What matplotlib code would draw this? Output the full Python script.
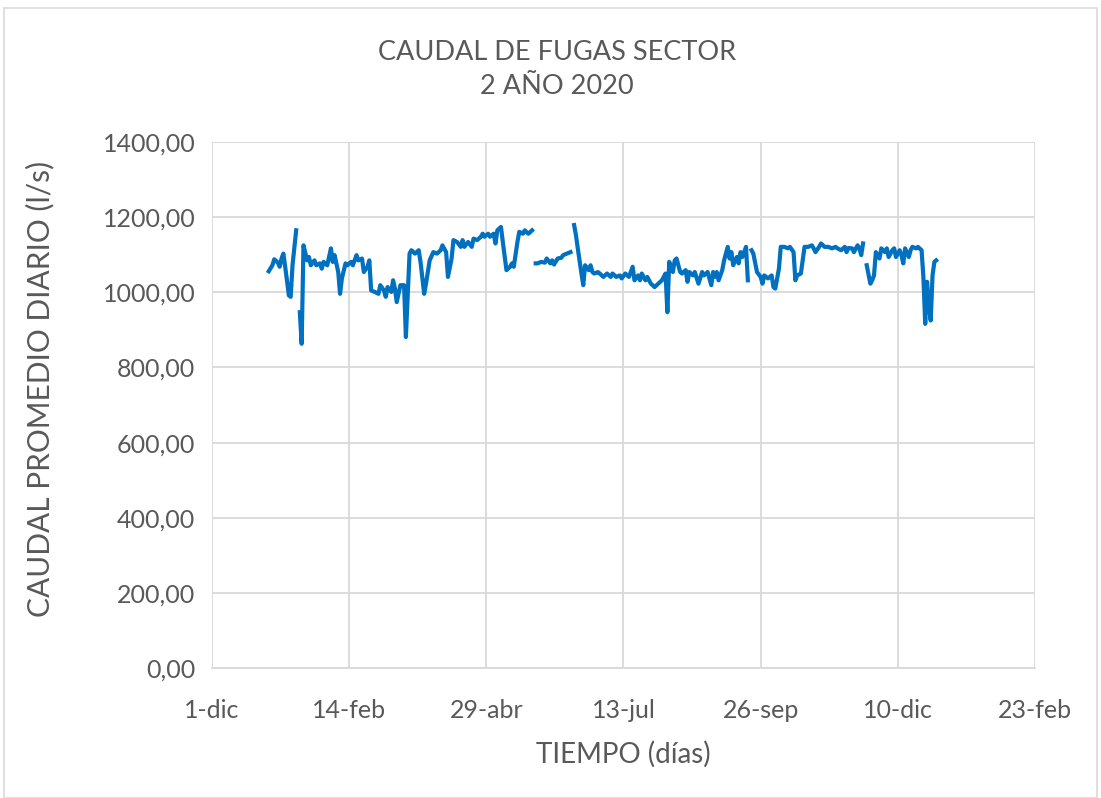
import numpy as np
import pandas as pd
import matplotlib
matplotlib.use('Agg')
import matplotlib.pyplot as plt
from matplotlib.patches import Rectangle

plt.rcParams['font.family'] = ['Lato', 'DejaVu Sans']

# dia del año 2020 (0 = 1-ene) y caudal promedio diario (l/s); nan = sin dato
dias = [0, 2, 3, 5, 6, 7, 8, 9, 11, 12, 13, 15, 16,
        17, 18, 19, 21, 22, 23, 25, 26, 28, 29, 30, 32, 34, 35, 36, 38, 39, 40,
        42, 43, 45, 46, 48, 49, 51, 52, 54, 55, 56, 58, 60, 61, 63, 64, 65, 67,
        68, 69, 70, 72, 74, 75, 77, 78, 80, 82, 83, 85, 86, 88, 90, 92, 94, 95,
        97, 98, 100, 101, 103, 105, 106, 107, 109, 111, 112, 114, 116, 117, 118,
        120, 121, 123, 124, 125, 127, 128, 130, 132, 133, 134, 136, 137, 139,
        140, 142, 144, 145,
        146, 147, 149, 151, 152, 154, 155, 156, 158, 160, 161, 163, 165, 166,
        167, 168, 169, 171, 172, 173, 175, 176, 177, 178, 180, 181, 183, 185,
        187, 188, 190, 192, 193, 195, 197, 199, 200, 202, 203, 204, 206, 207,
        209, 211, 213, 215, 217, 218, 219, 221, 222, 223, 225, 226, 228, 229,
        230, 232, 233, 235, 237, 238, 240, 242, 243, 244, 245, 246, 248, 249,
        251, 252, 253, 254, 256, 257, 258, 259, 261, 262, 263,
        264, 265, 267, 269, 270, 271, 273, 275, 276, 277, 279, 280, 282, 284,
        285, 287, 288, 289, 291, 292, 293, 295, 297, 298, 299, 301, 302, 304,
        306, 308, 310, 311, 313, 315, 316, 317, 319, 320, 322, 323, 324, 325, 326,
        327, 329, 330, 331, 332, 334, 335, 337, 338, 339, 341, 342, 343, 345,
        346, 347, 348, 350, 351, 352, 354, 355, 357, 358, 359, 360, 361, 362,
        363, 364, 365]
caudal = [1056, 1072, 1088, 1079, 1068, 1090, 1103, 1068, 992, 988, 1072, 1165, np.nan,
          947, 863, 1125, 1085, 1094, 1072, 1085, 1072, 1077, 1063, 1081, 1072, 1117, 1081, 1099, 1054, 996, 1037,
          1077, 1072, 1081, 1072, 1099, 1085, 1090, 1054, 1068, 1085, 1005, 1001, 996, 1019, 1005, 988, 1014, 1001,
          1032, 1010, 974, 1019, 1019, 881, 1103, 1112, 1103, 1112, 1081, 996, 1023, 1085, 1107, 1103, 1112, 1125,
          1107, 1041, 1090, 1139, 1134, 1121, 1139, 1121, 1134, 1121, 1143, 1139, 1148, 1156, 1148,
          1156, 1148, 1156, 1130, 1165, 1174, 1134, 1059, 1068, 1077, 1068, 1134, 1161, 1156,
          1165, 1156, 1165, np.nan,
          1077, 1077, 1081, 1079, 1090, 1077, 1085, 1074, 1090, 1092, 1099, 1103, 1107, np.nan,
          1179, 1152, 1117, 1050, 1019, 1072, 1059, 1072, 1054, 1050, 1054, 1050, 1041, 1050,
          1041, 1050, 1041, 1045, 1037, 1050, 1041, 1068, 1032, 1045, 1032, 1050, 1032, 1041,
          1023, 1014, 1023, 1032, 1050, 947, 1081, 1054, 1085, 1090, 1054, 1050, 1059, 1028,
          1054, 1045, 1054, 1023, 1054, 1045, 1054, 1019, 1054, 1041, 1054, 1032, 1059, 1085,
          1121, 1090, 1107, 1072, 1094, 1077, 1107, 1094, 1121, 1032, np.nan,
          1112, 1103, 1054, 1041, 1023, 1045, 1037, 1045, 1014, 1010, 1063, 1121, 1121, 1117,
          1121, 1107, 1032, 1045, 1050, 1085, 1121, 1121, 1125, 1117, 1107, 1121, 1130, 1121,
          1121, 1117, 1121, 1117, 1112, 1121, 1107, 1118, 1117, 1107, 1125, 1117, 1099, 1130, np.nan,
          1072, 1023, 1032, 1045, 1107, 1090, 1117, 1107, 1117, 1094, 1112, 1117, 1094, 1112,
          1099, 1077, 1117, 1094, 1112, 1121, 1117, 1121, 1112, 1041, 916, 1028, 965, 925,
          1045, 1081, 1085]

tick_labels = ['1-dic', '14-feb', '29-abr', '13-jul', '26-sep', '10-dic', '23-feb']

fechas = pd.Timestamp('2020-01-01') + pd.to_timedelta(dias, unit='D')
ticks = pd.date_range('2019-12-01', periods=7, freq='75D')

gris = '#595959'
fig = plt.figure(figsize=(11.01, 7.98), dpi=100)
ax = fig.add_axes([0.1926, 0.1629, 0.7474, 0.6591])

ax.plot(fechas, caudal, color='#0070c0', linewidth=3.0, solid_joinstyle='round')

ax.set_xlim(ticks[0], ticks[-1])
ax.set_xticks(ticks)
ax.set_xticklabels(tick_labels)
ax.set_ylim(0, 1400)
yt = np.arange(0, 1401, 200)
ax.set_yticks(yt)
ax.set_yticklabels([('%.2f' % v).replace('.', ',') for v in yt])

ax.grid(True, color='#d9d9d9', linewidth=1.3)
ax.set_axisbelow(True)
for s in ['top', 'right', 'left']:
    ax.spines[s].set_visible(False)
ax.spines['bottom'].set_color('#d9d9d9')
ax.spines['bottom'].set_linewidth(1.3)
ax.tick_params(axis='both', length=0, labelsize=18, labelcolor=gris)
ax.tick_params(axis='x', pad=22)
ax.tick_params(axis='y', pad=12)

ax.set_xlabel('TIEMPO (días)', fontsize=20, color=gris, labelpad=14)
ax.set_ylabel('CAUDAL PROMEDIO DIARIO (l/s)', fontsize=21.5, color=gris, va='center')
ax.yaxis.set_label_coords(-0.209, 0.531)
fig.text(0.506, 0.9125, 'CAUDAL DE FUGAS SECTOR\n2 AÑO 2020', ha='center', va='center',
         fontsize=19.5, color=gris, linespacing=1.45)

fig.patches.append(Rectangle((0.004, 0.0), 0.992, 0.99, transform=fig.transFigure,
                             fill=False, edgecolor='#d9d9d9', linewidth=1.2))

fig.savefig('out.png', dpi=100)
